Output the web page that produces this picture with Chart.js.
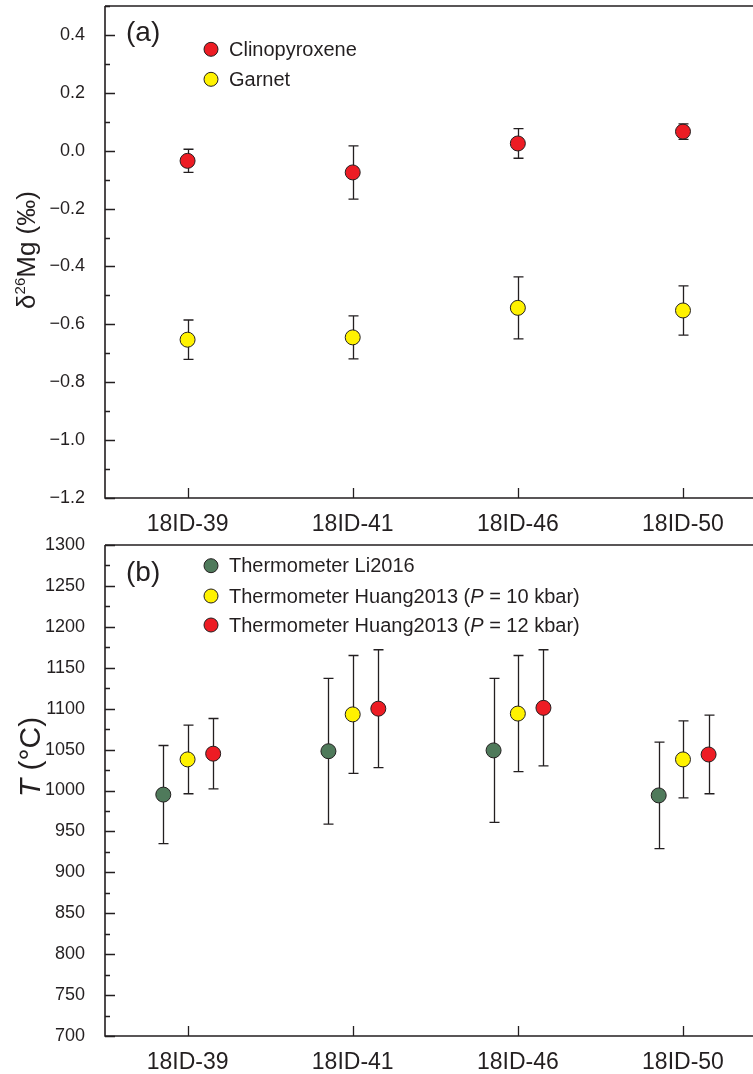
<!DOCTYPE html>
<html><head><meta charset="utf-8">
<script src="https://cdn.jsdelivr.net/npm/chart.js@4.4.0/dist/chart.umd.min.js"></script>
<style>
html,body{margin:0;padding:0;background:#fff;overflow:hidden;width:753px;height:1074px;position:relative}
#wa{position:absolute;left:0;top:-30px;width:762px;height:570px}
#wb{position:absolute;left:0;top:500px;width:762px;height:574px}
</style></head><body>
<div id="wa"><canvas id="ca"></canvas></div>
<div id="wb"><canvas id="cb"></canvas></div>
<script>
// ---------- data ----------
const samples = ["18ID-39", "18ID-41", "18ID-46", "18ID-50"];
// panel (a): δ26Mg (‰)
const cpxMg    = [-0.035, -0.075, 0.025, 0.066];
const cpxErr   = [0.040, 0.092, 0.051, 0.027];
const grtMg    = [-0.653, -0.645, -0.543, -0.552];
const grtErr   = [0.068, 0.074, 0.107, 0.085];
const mgTicks  = [-1.2, -1.0, -0.8, -0.6, -0.4, -0.2, 0.0, 0.2, 0.4];
// panel (b): T (°C)
const tLi      = [995, 1048, 1049, 994];
const tLiErr   = [60, 89, 88, 65];
const tH10     = [1038, 1093, 1094, 1038];
const tH10Err  = [42, 72, 71, 47];
const tH12     = [1045, 1100, 1101, 1044];
const tH12Err  = [43, 72, 71, 48];
const tTicks   = [700, 750, 800, 850, 900, 950, 1000, 1050, 1100, 1150, 1200, 1250, 1300];

// ---------- style ----------
const INK = '#231F20';
const FAM = "'Liberation Sans', Arial, Helvetica, sans-serif";
const RED = '#ED1C24', YEL = '#FFF200', GRN = '#4F7A5B';

const pts = (vals, off) => vals.map((v, i) => ({x: i + off, y: v}));

const framePlugin = {
  id: 'frame',
  beforeDatasetsDraw(chart) {
    const {ctx, chartArea: a, scales: {x, y}} = chart;
    ctx.save();
    ctx.strokeStyle = INK;
    ctx.lineWidth = 1.6;
    ctx.beginPath();
    ctx.moveTo(a.left, a.top); ctx.lineTo(a.right + 20, a.top);
    ctx.moveTo(a.left, a.top); ctx.lineTo(a.left, a.bottom); ctx.lineTo(a.right + 20, a.bottom);
    ctx.stroke();
    ctx.lineWidth = 1.3;
    ctx.beginPath();
    const tv = y.ticks.map(t => t.value);
    const step = tv[1] - tv[0];
    tv.forEach(v => {
      const py = Math.round(y.getPixelForValue(v)) + 0.5;
      ctx.moveTo(a.left, py); ctx.lineTo(a.left + 10, py);
      const m = v + step / 2;
      if (m <= y.max + 1e-9) {
        const pm = Math.round(y.getPixelForValue(m)) + 0.5;
        ctx.moveTo(a.left, pm); ctx.lineTo(a.left + 5, pm);
      }
    });
    x.ticks.forEach(t => {
      const px = Math.round(x.getPixelForValue(t.value)) + 0.5;
      ctx.moveTo(px, a.bottom); ctx.lineTo(px, a.bottom - 10);
    });
    ctx.stroke();
    ctx.restore();
  }
};

const errPlugin = {
  id: 'errbars',
  beforeDatasetsDraw(chart) {
    const {ctx, scales: {x, y}} = chart;
    ctx.save();
    ctx.strokeStyle = INK;
    ctx.lineWidth = 1.3;
    chart.data.datasets.forEach(ds => {
      ds.data.forEach((p, i) => {
        const e = ds.errors[i];
        const px = Math.round(x.getPixelForValue(p.x)) + 0.5;
        const y1 = y.getPixelForValue(p.y + e), y2 = y.getPixelForValue(p.y - e);
        ctx.beginPath();
        ctx.moveTo(px, y1); ctx.lineTo(px, y2);
        ctx.moveTo(px - 5, y1); ctx.lineTo(px + 5, y1);
        ctx.moveTo(px - 5, y2); ctx.lineTo(px + 5, y2);
        ctx.stroke();
      });
    });
    ctx.restore();
  }
};

function drawSegments(ctx, segs, x, y) {
  let cx = x;
  segs.forEach(s => {
    ctx.font = (s.italic ? 'italic ' : '') + s.size + 'px ' + FAM;
    ctx.fillText(s.t, cx, y - (s.rise || 0));
    cx += ctx.measureText(s.t).width;
  });
}
function segWidth(ctx, segs) {
  let w = 0;
  segs.forEach(s => { ctx.font = (s.italic ? 'italic ' : '') + s.size + 'px ' + FAM; w += ctx.measureText(s.t).width; });
  return w;
}
function splitItalicP(label, size) {
  return label.split(/(\bP\b)/).filter(s => s.length).map(s => ({t: s, size, italic: s === 'P'}));
}

const annoPlugin = {
  id: 'anno',
  afterDatasetsDraw(chart, args, o) {
    const {ctx, chartArea: a} = chart;
    ctx.save();
    ctx.fillStyle = INK;
    ctx.textBaseline = 'alphabetic';
    // panel letter
    ctx.font = '28px ' + FAM;
    ctx.fillText(o.letter, a.left + 21, a.top + o.letterDy);
    // legend
    chart.data.datasets.forEach((ds, i) => {
      const cy = a.top + o.legDy[i];
      ctx.beginPath();
      ctx.arc(o.legX, cy, 7, 0, Math.PI * 2);
      ctx.fillStyle = ds.backgroundColor;
      ctx.fill();
      ctx.lineWidth = 1;
      ctx.strokeStyle = INK;
      ctx.stroke();
      ctx.fillStyle = INK;
      ctx.textBaseline = 'middle';
      drawSegments(ctx, splitItalicP(ds.label, 20), o.legX + 18, cy + 1);
    });
    // y-axis title (centre given relative to chart area top)
    ctx.translate(o.titleX, a.top + o.titleDy);
    ctx.rotate(-Math.PI / 2);
    ctx.textBaseline = 'alphabetic';
    ctx.fillStyle = INK;
    const w = segWidth(ctx, o.title);
    drawSegments(ctx, o.title, -w / 2, o.titleBase);
    ctx.restore();
  }
};

const fmtMg = v => (v < 0 ? '\u2212' : '') + Math.abs(v).toFixed(1);

function baseOptions(yMin, yMax, yTickVals, fmt, xH, padTop) {
  return {
    responsive: true,
    maintainAspectRatio: false,
    animation: false,
    events: [],
    layout: {padding: {top: padTop, left: 0, right: 0, bottom: 0}},
    plugins: {legend: {display: false}, tooltip: {enabled: false}},
    scales: {
      x: {
        type: 'linear', min: -0.5, max: 3.427,
        grid: {display: false}, border: {display: false},
        afterBuildTicks: s => { s.ticks = samples.map((_, i) => ({value: i})); },
        afterFit: s => { s.height = xH; s.paddingLeft = 0; s.paddingRight = 0; },
        ticks: {
          autoSkip: false, maxRotation: 0, padding: 5, color: INK,
          font: {family: FAM, size: 23},
          callback: v => samples[v]
        }
      },
      y: {
        type: 'linear', min: yMin, max: yMax,
        grid: {display: false}, border: {display: false},
        afterBuildTicks: s => { s.ticks = yTickVals.map(v => ({value: v})); },
        afterFit: s => { s.width = 105; },
        ticks: {padding: 12, color: INK, font: {family: FAM, size: 18}, callback: v => fmt(v)}
      }
    }
  };
}

const dsStyle = c => ({backgroundColor: c, borderColor: INK, borderWidth: 1, pointRadius: 7.5, pointHoverRadius: 7.5, showLine: false});

// ---------- panel (a) ----------
const optA = baseOptions(-1.2, 0.5, mgTicks, fmtMg, 42, 36);
optA.plugins.anno = {
  letter: '(a)', letterDy: 35, legX: 211, legDy: [43.3, 73.3],
  titleX: 26, titleDy: 244, titleBase: 8.5,
  title: [{t: 'δ', size: 26}, {t: '26', size: 15, rise: 10}, {t: 'Mg (‰)', size: 26}]
};
new Chart(document.getElementById('ca'), {
  type: 'scatter',
  data: {datasets: [
    Object.assign({label: 'Clinopyroxene', data: pts(cpxMg, 0), errors: cpxErr}, dsStyle(RED)),
    Object.assign({label: 'Garnet', data: pts(grtMg, 0), errors: grtErr}, dsStyle(YEL))
  ]},
  options: optA,
  plugins: [framePlugin, errPlugin, annoPlugin]
});

// ---------- panel (b) ----------
const optB = baseOptions(700, 1300, tTicks, v => String(v), 38, 45);
optB.plugins.anno = {
  letter: '(b)', letterDy: 36, legX: 211, legDy: [20.7, 51, 80],
  titleX: 29, titleDy: 212, titleBase: 10.5,
  title: [{t: 'T', size: 30, italic: true}, {t: ' (°C)', size: 30}]
};
new Chart(document.getElementById('cb'), {
  type: 'scatter',
  data: {datasets: [
    Object.assign({label: 'Thermometer Li2016', data: pts(tLi, -0.147), errors: tLiErr}, dsStyle(GRN)),
    Object.assign({label: 'Thermometer Huang2013 (P = 10 kbar)', data: pts(tH10, 0), errors: tH10Err}, dsStyle(YEL)),
    Object.assign({label: 'Thermometer Huang2013 (P = 12 kbar)', data: pts(tH12, 0.155), errors: tH12Err}, dsStyle(RED))
  ]},
  options: optB,
  plugins: [framePlugin, errPlugin, annoPlugin]
});
</script>
</body></html>
